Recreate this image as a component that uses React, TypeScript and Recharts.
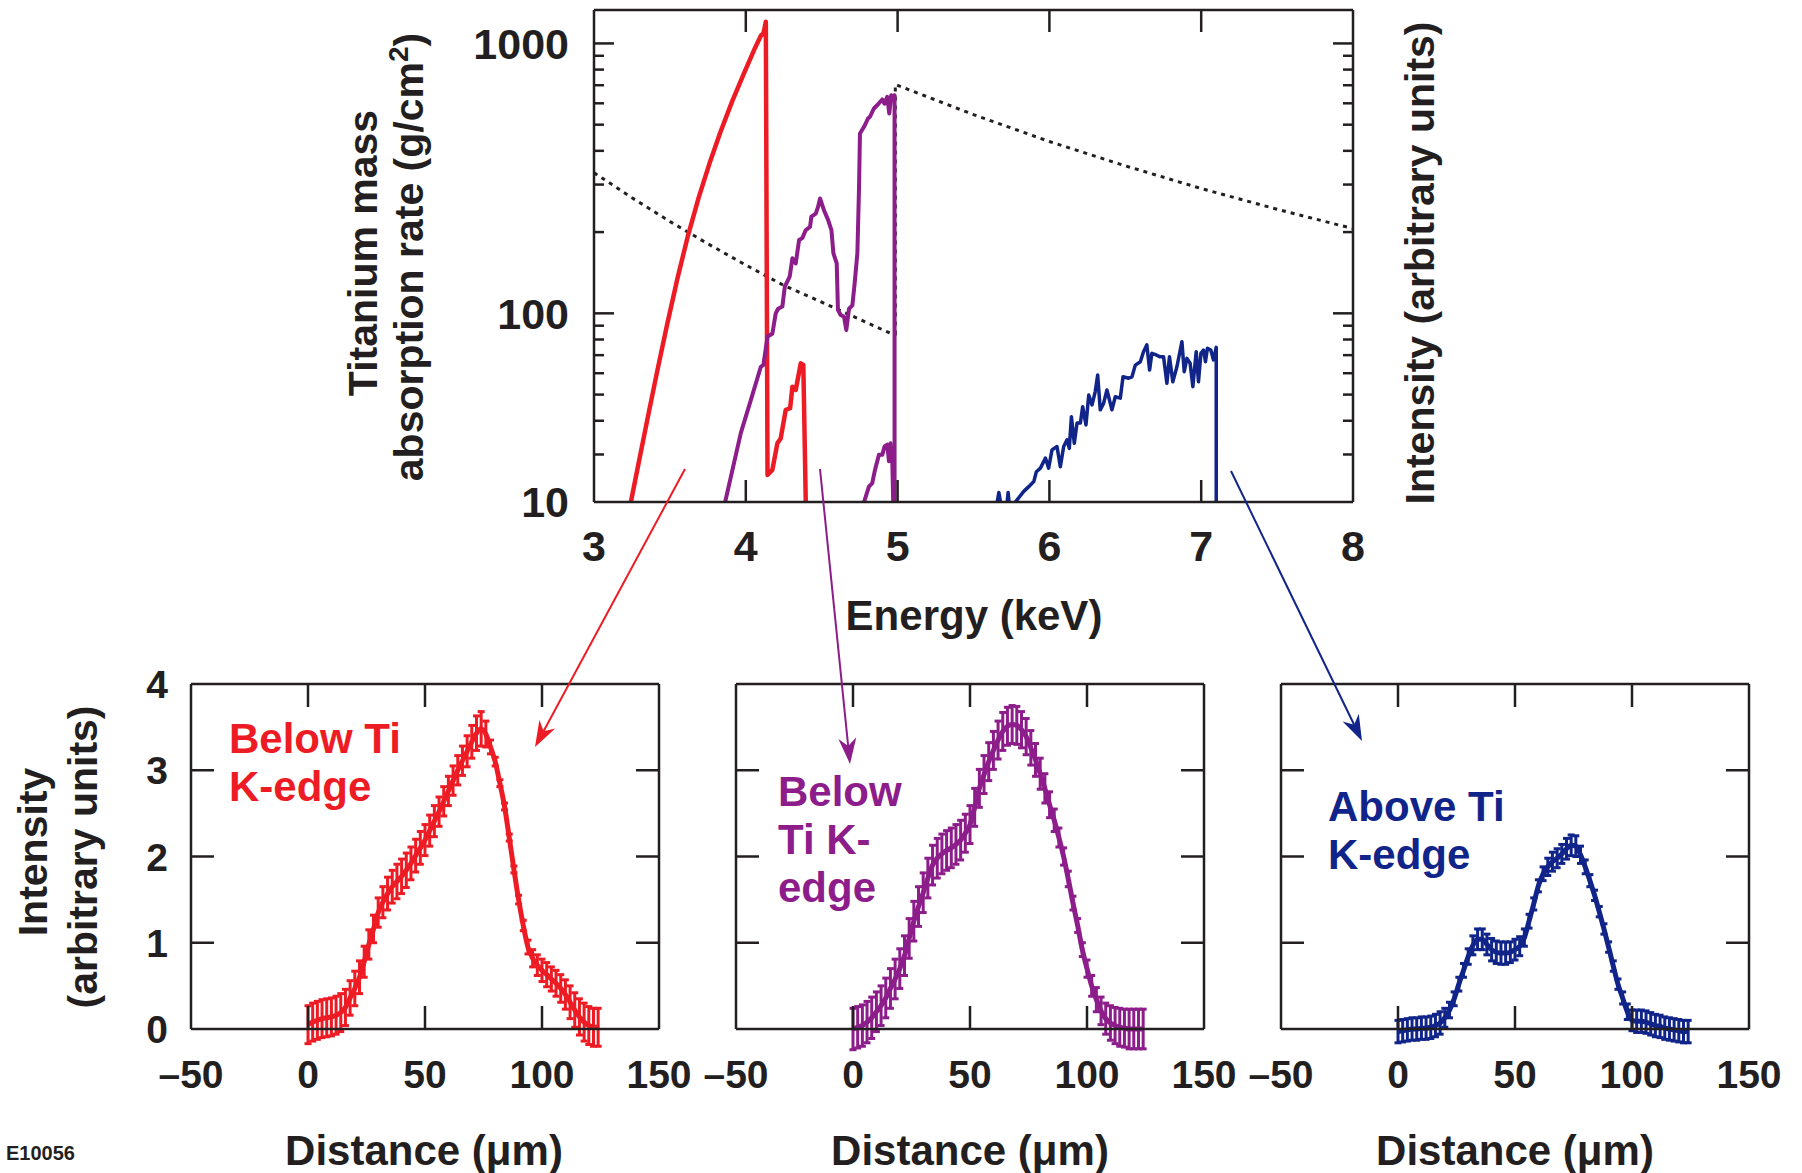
import React from "react";
import { LineChart, Line, XAxis, YAxis, ErrorBar } from "recharts";

const INK = "#231f20";
const RED = "#ed1c24";
const PURPLE = "#8c1d8a";
const BLUE = "#102489";
const FONT = '"Liberation Sans", Arial, Helvetica, sans-serif';

// ---- top panel: Ti mass absorption + source spectra (keV, value) ----
const energyTicks = [3, 4, 5, 6, 7, 8];
const absMajorTicks = [20, 100, 1000];
const absMajorLabels = ["10", "100", "1000"];
const absMinorTicks = [30, 40, 50, 60, 70, 80, 90, 200, 300, 400, 500, 600, 700, 800, 900];

const tiAbsorption: [number, number][] = [
  [3, 332], [3.25, 268], [3.5, 219], [3.75, 181], [4, 151], [4.25, 127], [4.5, 110],
  [4.75, 95], [4.954, 84.3], [4.985, 84], [4.985, 705], [5.5, 545], [6, 433],
  [6.5, 352], [7, 290], [7.5, 243], [8, 206],
];

const belowEdgeSpectrum: [number, number][] = [
  [3.243, 20], [3.3, 29], [3.36, 42.7], [3.42, 62.4], [3.48, 90], [3.55, 135], [3.62, 195],
  [3.69, 269], [3.76, 358], [3.83, 465], [3.91, 610], [3.99, 780], [4.06, 960], [4.1, 1070],
  [4.116, 1089], [4.132, 1203],
  [4.143, 25.2], [4.175, 26.3], [4.208, 33], [4.23, 34.4], [4.263, 43.9], [4.292, 44.5],
  [4.307, 53.5], [4.329, 52], [4.362, 65.3], [4.379, 64.4], [4.395, 20],
];

const nearEdgeSpectrum: [number, number][] = [
  [3.864, 20], [3.967, 36], [4.033, 47.7], [4.099, 63.4], [4.116, 64.4], [4.143, 82],
  [4.175, 84], [4.197, 100], [4.213, 104], [4.241, 106], [4.257, 125.6], [4.289, 136.7],
  [4.307, 160], [4.329, 153], [4.351, 187], [4.373, 190], [4.395, 203.5], [4.423, 209],
  [4.432, 228], [4.461, 234], [4.476, 248], [4.489, 266.5], [4.515, 241], [4.542, 222],
  [4.564, 203.5], [4.577, 167], [4.599, 153], [4.607, 103], [4.625, 98.6], [4.647, 97.2],
  [4.662, 86.8], [4.68, 104], [4.702, 107], [4.717, 129], [4.735, 167], [4.746, 294],
  [4.752, 464], [4.779, 491], [4.805, 527], [4.818, 535], [4.844, 574], [4.877, 600],
  [4.899, 620], [4.914, 598], [4.932, 634], [4.945, 550], [4.958, 643], [4.971, 620],
  [4.98, 643], [4.98, 20],
];

const nearEdgeTail: [number, number][] = [
  [4.779, 20], [4.811, 22.8], [4.833, 23.5], [4.851, 26.3], [4.877, 29.9], [4.899, 29.9],
  [4.914, 32.1], [4.932, 32.6], [4.943, 28.3], [4.954, 33], [4.965, 28.3], [4.971, 20],
];

const aboveEdgeSpectrum: [number, number][] = [
  [5.64, 18], [5.656, 20], [5.667, 21.7], [5.678, 20], [5.69, 18], [5.715, 18], [5.722, 20],
  [5.728, 21.7], [5.734, 20], [5.75, 18], [5.776, 20], [5.831, 21.9], [5.864, 22.8],
  [5.897, 23.8], [5.914, 25.9], [5.941, 26.7], [5.974, 29.1], [5.995, 26.7], [6.017, 31.2],
  [6.05, 32.1], [6.072, 27], [6.094, 32.1], [6.116, 34], [6.131, 31.6], [6.145, 41.4],
  [6.164, 33], [6.182, 39.2], [6.204, 39.2], [6.219, 45.1], [6.241, 38.6], [6.259, 49.8],
  [6.281, 45.8], [6.302, 51.3], [6.318, 59.1], [6.335, 43.9], [6.357, 46.4], [6.379, 52],
  [6.412, 43.9], [6.434, 49.1], [6.467, 48.5], [6.485, 58.2], [6.522, 57.5], [6.544, 58.2],
  [6.566, 64.3], [6.599, 66.2], [6.62, 72.1], [6.642, 76.4], [6.66, 61.7], [6.675, 71.1],
  [6.704, 70.1], [6.726, 69.1], [6.752, 69.1], [6.774, 55.1], [6.791, 69.1], [6.813, 55.8],
  [6.84, 63.4], [6.873, 78.5], [6.888, 60.8], [6.906, 68.1], [6.927, 65.3], [6.945, 53.5],
  [6.967, 72.1], [6.982, 55.8], [6.998, 71.1], [7.015, 73.1], [7.028, 66.2], [7.041, 74.2],
  [7.063, 73.1], [7.081, 67.2], [7.099, 74.8], [7.099, 18],
];

// ---- bottom panels: line-outs vs distance (um) ----
const distTicks = [-50, 0, 50, 100, 150];
const intensityTicks = [0, 1, 2, 3, 4];
const distance = [
  0, 2, 4, 6, 8, 10, 12, 14, 16, 18, 20, 22, 24, 26, 28, 30, 32, 34, 36, 38, 40, 42, 44,
  46, 48, 50, 52, 54, 56, 58, 60, 62, 64, 66, 68, 70, 72, 74, 76, 78, 80, 82, 84, 86, 88,
  90, 92, 94, 96, 98, 100, 102, 104, 106, 108, 110, 112, 114, 116, 118, 120, 122, 124,
];

const redMean = [
  0.05, 0.08, 0.1, 0.12, 0.13, 0.14, 0.16, 0.19, 0.25, 0.36, 0.47, 0.6, 0.78, 0.98, 1.16,
  1.35, 1.47, 1.57, 1.65, 1.71, 1.77, 1.84, 1.92, 2.01, 2.1, 2.19, 2.3, 2.41, 2.52, 2.64,
  2.76, 2.88, 3.0, 3.11, 3.22, 3.33, 3.43, 3.48, 3.42, 3.27, 3.1, 2.85, 2.58, 2.22, 1.85,
  1.5, 1.2, 0.95, 0.82, 0.74, 0.68, 0.63, 0.58, 0.53, 0.47, 0.4, 0.31, 0.22, 0.14, 0.08,
  0.04, 0.02, 0.02,
];
const redErr = [
  0.22, 0.22, 0.22, 0.22, 0.22, 0.22, 0.22, 0.22, 0.21, 0.2, 0.2, 0.19, 0.18, 0.17, 0.16,
  0.17, 0.18, 0.19, 0.19, 0.2, 0.2, 0.2, 0.19, 0.19, 0.19, 0.18, 0.18, 0.18, 0.17, 0.17,
  0.17, 0.17, 0.17, 0.17, 0.18, 0.19, 0.2, 0.2, 0.15, 0.08, 0.05, 0.04, 0.04, 0.04, 0.04,
  0.05, 0.06, 0.08, 0.1, 0.12, 0.13, 0.14, 0.14, 0.15, 0.16, 0.17, 0.19, 0.2, 0.21, 0.22,
  0.22, 0.22, 0.22,
];

const purpleMean = [
  0, 0.02, 0.04, 0.08, 0.13, 0.2, 0.27, 0.36, 0.47, 0.58, 0.7, 0.85, 1.05, 1.25, 1.42,
  1.58, 1.75, 1.9, 1.98, 2.03, 2.07, 2.1, 2.14, 2.19, 2.27, 2.37, 2.57, 2.79, 2.95, 3.1,
  3.23, 3.35, 3.45, 3.51, 3.53, 3.52, 3.47, 3.39, 3.26, 3.12, 2.96, 2.79, 2.6, 2.42, 2.22,
  2.0, 1.74, 1.46, 1.2, 0.92, 0.7, 0.5, 0.34, 0.21, 0.12, 0.07, 0.04, 0.02, 0.01, 0, 0, 0, 0,
];
const purpleErr = [
  0.24, 0.24, 0.24, 0.24, 0.24, 0.23, 0.23, 0.23, 0.23, 0.23, 0.23, 0.23, 0.23, 0.23, 0.23,
  0.23, 0.23, 0.23, 0.23, 0.23, 0.23, 0.23, 0.23, 0.23, 0.22, 0.22, 0.22, 0.22, 0.22, 0.22,
  0.22, 0.22, 0.22, 0.22, 0.22, 0.22, 0.21, 0.21, 0.2, 0.19, 0.18, 0.17, 0.15, 0.13, 0.11,
  0.1, 0.09, 0.08, 0.08, 0.08, 0.1, 0.12, 0.14, 0.16, 0.18, 0.2, 0.21, 0.22, 0.22, 0.23,
  0.23, 0.23, 0.23,
];

const blueMean = [
  -0.03, -0.02, -0.01, 0, 0, 0.01, 0.01, 0.02, 0.04, 0.07, 0.13, 0.22, 0.35, 0.52, 0.68,
  0.84, 0.97, 1.04, 1.04, 0.98, 0.92, 0.89, 0.88, 0.88, 0.89, 0.92, 0.96, 1.06, 1.25, 1.45,
  1.66, 1.8, 1.88, 1.94, 1.98, 2.03, 2.09, 2.13, 2.12, 2.02, 1.88, 1.72, 1.55, 1.36, 1.16,
  0.95, 0.73, 0.52, 0.36, 0.2, 0.1, 0.09, 0.09, 0.08, 0.06, 0.04, 0.03, 0.01, 0, -0.01,
  -0.02, -0.03, -0.03,
];
const blueErr = [
  0.13, 0.13, 0.13, 0.13, 0.13, 0.13, 0.13, 0.13, 0.13, 0.13, 0.11, 0.09, 0.08, 0.08, 0.08,
  0.09, 0.11, 0.12, 0.12, 0.12, 0.13, 0.13, 0.13, 0.13, 0.12, 0.12, 0.11, 0.1, 0.08, 0.07,
  0.07, 0.08, 0.1, 0.11, 0.11, 0.11, 0.12, 0.12, 0.12, 0.1, 0.08, 0.07, 0.06, 0.06, 0.06,
  0.06, 0.06, 0.06, 0.07, 0.09, 0.12, 0.13, 0.13, 0.13, 0.13, 0.13, 0.13, 0.13, 0.13, 0.13,
  0.13, 0.13, 0.13,
];

const toXY = (pairs: [number, number][]) => pairs.map(([x, y]) => ({ x, y }));
const profile = (mean: number[], err: number[]) =>
  distance.map((d, i) => ({ x: d, y: mean[i], err: err[i] }));

const axisLine = { stroke: INK, strokeWidth: 2.5 };

type Side = "left" | "right" | "top" | "bottom";

// ticks drawn inward from the frame, label outside
function inwardTick(
  side: Side,
  gap: number,
  len: (v: number) => number,
  label?: (v: number) => string,
  fontSize = 40
) {
  return (props: any) => {
    const { x, y, payload } = props;
    const v = payload.value as number;
    const l = len(v);
    const txt = label ? label(v) : "";
    let x1 = x, y1 = y, x2 = x, y2 = y;
    let ty = y;
    let anchor = "middle";
    if (side === "bottom") {
      y1 = y - gap;
      y2 = y1 - l;
      ty = y + fontSize * 0.36;
    } else if (side === "top") {
      y1 = y + gap;
      y2 = y1 + l;
    } else if (side === "left") {
      x1 = x + gap;
      x2 = x1 + l;
      anchor = "end";
      ty = y + fontSize * 0.36;
    } else {
      x1 = x - gap;
      x2 = x1 - l;
    }
    return (
      <g>
        {l > 0 && <line x1={x1} y1={y1} x2={x2} y2={y2} stroke={INK} strokeWidth={2.5} />}
        {txt && (
          <text x={x} y={ty} textAnchor={anchor} fontFamily={FONT} fontWeight="bold" fontSize={fontSize} fill={INK}>
            {txt}
          </text>
        )}
      </g>
    );
  };
}

const absLen = (v: number) => (v === 100 || v === 1000 ? 20 : v === 20 ? 0 : 10);
const absLabel = (v: number) => {
  const i = absMajorTicks.indexOf(v);
  return i >= 0 ? absMajorLabels[i] : "";
};
const energyLen = (v: number) => (v > 3 && v < 8 ? 22 : 0);

function SpectrumChart() {
  const yTicks = [...absMajorTicks, ...absMinorTicks];
  return (
    <div style={{ position: "absolute", left: 0, top: 0 }}>
      <LineChart width={1400} height={600} margin={{ top: 9, right: 46, bottom: 0, left: 0 }}>
        <XAxis xAxisId="b" dataKey="x" type="number" domain={[3, 8]} ticks={energyTicks} allowDataOverflow
          interval={0} height={98} tickSize={0} tickMargin={44} tickLine={false} axisLine={axisLine}
          tick={inwardTick("bottom", 44, energyLen, (v) => String(v), 43)} />
        <XAxis xAxisId="t" orientation="top" dataKey="x" type="number" domain={[3, 8]} ticks={energyTicks}
          allowDataOverflow interval={0} height={1} tickSize={0} tickMargin={0} tickLine={false}
          axisLine={axisLine} tick={inwardTick("top", 0, energyLen)} />
        <YAxis yAxisId="l" type="number" scale="log" domain={[20, 1330]} ticks={yTicks} allowDataOverflow
          interval={0} width={594} tickSize={0} tickMargin={25} tickLine={false} axisLine={axisLine}
          tick={inwardTick("left", 25, absLen, absLabel, 43)} />
        <YAxis yAxisId="r" orientation="right" type="number" scale="log" domain={[20, 1330]} ticks={yTicks}
          allowDataOverflow interval={0} width={1} tickSize={0} tickMargin={0} tickLine={false}
          axisLine={axisLine} tick={inwardTick("right", 0, absLen)} />
        <Line xAxisId="b" yAxisId="l" data={toXY(tiAbsorption)} dataKey="y" type="linear" stroke={INK}
          strokeWidth={3} strokeDasharray="4 5" dot={false} isAnimationActive={false} />
        <Line xAxisId="b" yAxisId="l" data={toXY(belowEdgeSpectrum)} dataKey="y" type="linear" stroke={RED}
          strokeWidth={4.5} strokeLinejoin="round" dot={false} isAnimationActive={false} />
        <Line xAxisId="b" yAxisId="l" data={toXY(nearEdgeSpectrum)} dataKey="y" type="linear" stroke={PURPLE}
          strokeWidth={4} strokeLinejoin="round" dot={false} isAnimationActive={false} />
        <Line xAxisId="b" yAxisId="l" data={toXY(nearEdgeTail)} dataKey="y" type="linear" stroke={PURPLE}
          strokeWidth={4} strokeLinejoin="round" dot={false} isAnimationActive={false} />
        <Line xAxisId="b" yAxisId="l" data={toXY(aboveEdgeSpectrum)} dataKey="y" type="linear" stroke={BLUE}
          strokeWidth={3.5} strokeLinejoin="round" dot={false} isAnimationActive={false} />
      </LineChart>
    </div>
  );
}

const distLen = (v: number) => (v === 0 || v === 50 || v === 100 ? 23 : 0);
const distLabel = (v: number) => (v < 0 ? "\u2013" + Math.abs(v) : String(v));
const intLen = (v: number) => (v > 0 && v < 4 ? 23 : 0);

function ProfilePanel({ plotLeft, color, mean, err, showY }: {
  plotLeft: number; color: string; mean: number[]; err: number[]; showY: boolean;
}) {
  const data = profile(mean, err);
  return (
    <div className="profile" style={{ position: "absolute", left: plotLeft - 80, top: 654 }}>
      <LineChart width={588} height={445} margin={{ top: 29, right: 39, bottom: 0, left: 0 }}>
        <XAxis xAxisId="b" dataKey="x" type="number" domain={[-50, 150]} ticks={distTicks} allowDataOverflow
          interval={0} height={70} tickSize={0} tickMargin={45} tickLine={false} axisLine={axisLine}
          tick={inwardTick("bottom", 45, distLen, distLabel, 39)} />
        <XAxis xAxisId="t" orientation="top" dataKey="x" type="number" domain={[-50, 150]} ticks={distTicks}
          allowDataOverflow interval={0} height={1} tickSize={0} tickMargin={0} tickLine={false}
          axisLine={axisLine} tick={inwardTick("top", 0, distLen)} />
        <YAxis yAxisId="l" type="number" domain={[0, 4]} ticks={intensityTicks} allowDataOverflow interval={0}
          width={80} tickSize={0} tickMargin={23} tickLine={false} axisLine={axisLine}
          tick={inwardTick("left", 23, intLen, showY ? (v) => String(v) : undefined, 39)} />
        <YAxis yAxisId="r" orientation="right" type="number" domain={[0, 4]} ticks={intensityTicks}
          allowDataOverflow interval={0} width={1} tickSize={0} tickMargin={0} tickLine={false}
          axisLine={axisLine} tick={inwardTick("right", 0, intLen)} />
        <Line xAxisId="b" yAxisId="l" data={data} dataKey="y" type="monotone" stroke={color} strokeWidth={5}
          dot={false} isAnimationActive={false}>
          <ErrorBar dataKey="err" direction="y" width={3.5} stroke={color} strokeWidth={3} isAnimationActive={false} />
        </Line>
      </LineChart>
    </div>
  );
}

function Arrow({ from, to, color }: { from: [number, number]; to: [number, number]; color: string }) {
  const [x1, y1] = from;
  const [x2, y2] = to;
  const L = Math.hypot(x2 - x1, y2 - y1);
  const ux = (x2 - x1) / L, uy = (y2 - y1) / L;
  const hl = 26, hw = 9, notch = 8;
  const bx = x2 - ux * hl, by = y2 - uy * hl;
  const nx = x2 - ux * (hl - notch), ny = y2 - uy * (hl - notch);
  const pts = [
    [x2, y2], [bx - uy * hw, by + ux * hw], [nx, ny], [bx + uy * hw, by - ux * hw],
  ].map((p) => p.join(",")).join(" ");
  return (
    <g>
      <line x1={x1} y1={y1} x2={nx} y2={ny} stroke={color} strokeWidth={2} />
      <polygon points={pts} fill={color} />
    </g>
  );
}

function Annotations() {
  const t = { fontFamily: FONT, fontWeight: "bold" as const };
  return (
    <svg width={1802} height={1173} style={{ position: "absolute", left: 0, top: 0, pointerEvents: "none" }}>
      <g {...t} fontSize={41} fill={INK} textAnchor="middle">
        <text transform="translate(377,253) rotate(-90)">Titanium mass</text>
        <text transform="translate(423,257) rotate(-90)">
          absorption rate (g/cm<tspan fontSize={28} dy={-15}>2</tspan><tspan dy={15}>)</tspan>
        </text>
        <text transform="translate(1434,263) rotate(-90)">Intensity (arbitrary units)</text>
        <text x={974} y={630} fontSize={42}>Energy (keV)</text>
        <text transform="translate(47,852) rotate(-90)">Intensity</text>
        <text transform="translate(97,857) rotate(-90)">(arbitrary units)</text>
        <text x={424} y={1165} fontSize={42}>Distance (μm)</text>
        <text x={970} y={1165} fontSize={42}>Distance (μm)</text>
        <text x={1515} y={1165} fontSize={42}>Distance (μm)</text>
      </g>
      <text x={6} y={1160} {...t} fontSize={20} fill={INK}>E10056</text>
      <g {...t} fontSize={42}>
        <text x={229} y={753} fill={RED}>Below Ti</text>
        <text x={229} y={801} fill={RED}>K-edge</text>
        <text x={778} y={806} fill={PURPLE}>Below</text>
        <text x={778} y={854} fill={PURPLE}>Ti K-</text>
        <text x={778} y={902} fill={PURPLE}>edge</text>
        <text x={1328} y={821} fill={BLUE}>Above Ti</text>
        <text x={1328} y={869} fill={BLUE}>K-edge</text>
      </g>
      <Arrow from={[685, 469]} to={[535, 747]} color={RED} />
      <Arrow from={[820, 469]} to={[850, 764]} color={PURPLE} />
      <Arrow from={[1231, 471]} to={[1362, 741]} color={BLUE} />
    </svg>
  );
}

export default function App() {
  return (
    <div style={{ position: "absolute", left: 0, top: 0, width: 1802, height: 1173, background: "#fff" }}>
      <style>{`.profile [clip-path]{clip-path:none !important;}`}</style>
      <SpectrumChart />
      <ProfilePanel plotLeft={191} color={RED} mean={redMean} err={redErr} showY />
      <ProfilePanel plotLeft={736} color={PURPLE} mean={purpleMean} err={purpleErr} showY={false} />
      <ProfilePanel plotLeft={1281} color={BLUE} mean={blueMean} err={blueErr} showY={false} />
      <Annotations />
    </div>
  );
}
